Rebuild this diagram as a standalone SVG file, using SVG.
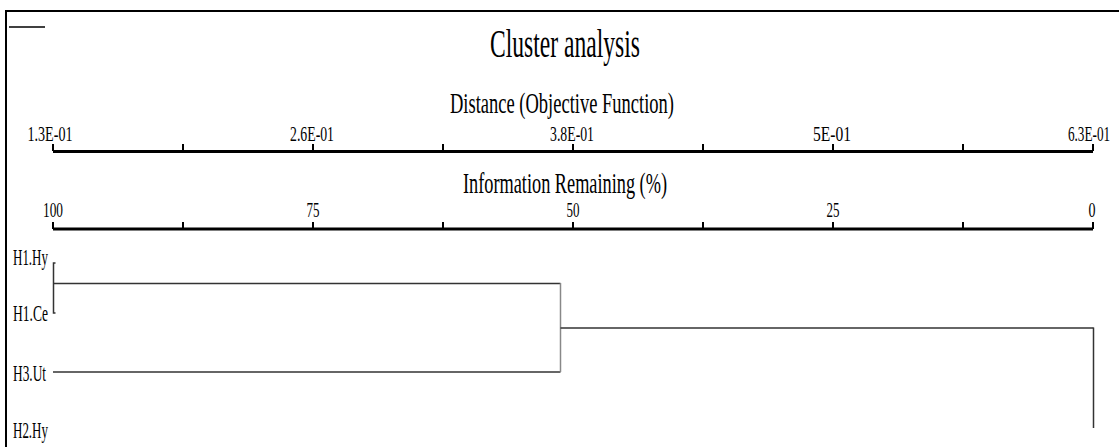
<svg xmlns="http://www.w3.org/2000/svg" width="1119" height="447" viewBox="0 0 1119 447">
  <style>
    text { font-family: "Liberation Serif", "Times New Roman", serif; fill: #000; }
    .title { font-size: 39px; }
    .sub { font-size: 30px; }
    .ax { font-size: 22px; text-anchor: middle; }
    .lab { font-size: 23px; }
    .axis { stroke: #000; stroke-width: 3; fill: none; }
    .tick { stroke: #000; stroke-width: 2; }
    .frame { stroke: #000; stroke-width: 2; fill: none; }
    .dend { stroke: #333; stroke-width: 1.5; fill: none; }
  </style>
  <rect x="0" y="0" width="1119" height="447" fill="#fff"/>
  <g id="frame">
    <path class="frame" d="M6,447 V11 H1119"/>
    <line x1="9" y1="27" x2="45" y2="27" stroke="#000" stroke-width="1.5"/>
  </g>
  <g id="title">
    <text class="title" x="490" y="57" textLength="150" lengthAdjust="spacingAndGlyphs">Cluster analysis</text>
  </g>
  <g id="axis-distance">
    <text class="sub" x="450" y="113" textLength="224" lengthAdjust="spacingAndGlyphs">Distance (Objective Function)</text>
    <line class="axis" x1="53" y1="151.5" x2="1093" y2="151.5"/>
    <g class="tick">
      <line x1="53" y1="144" x2="53" y2="151"/>
      <line x1="183" y1="144" x2="183" y2="151"/>
      <line x1="313" y1="144" x2="313" y2="151"/>
      <line x1="443" y1="144" x2="443" y2="151"/>
      <line x1="573" y1="144" x2="573" y2="151"/>
      <line x1="703" y1="144" x2="703" y2="151"/>
      <line x1="833" y1="144" x2="833" y2="151"/>
      <line x1="963" y1="144" x2="963" y2="151"/>
      <line x1="1093" y1="144" x2="1093" y2="151"/>
    </g>
    <text class="ax" x="50" y="141" textLength="45" lengthAdjust="spacingAndGlyphs">1.3E-01</text>
    <text class="ax" x="312" y="141" textLength="44" lengthAdjust="spacingAndGlyphs">2.6E-01</text>
    <text class="ax" x="572" y="141" textLength="44" lengthAdjust="spacingAndGlyphs">3.8E-01</text>
    <text class="ax" x="832" y="141" textLength="38" lengthAdjust="spacingAndGlyphs">5E-01</text>
    <text class="ax" transform="translate(1089 141) scale(0.6 1)" x="0" y="0">6.3E-01</text>
  </g>
  <g id="axis-info">
    <text class="sub" x="463" y="193" textLength="204" lengthAdjust="spacingAndGlyphs">Information Remaining (%)</text>
    <line class="axis" x1="53" y1="229" x2="1093" y2="229"/>
    <g class="tick">
      <line x1="53" y1="222" x2="53" y2="229"/>
      <line x1="183" y1="222" x2="183" y2="229"/>
      <line x1="313" y1="222" x2="313" y2="229"/>
      <line x1="443" y1="222" x2="443" y2="229"/>
      <line x1="573" y1="222" x2="573" y2="229"/>
      <line x1="703" y1="222" x2="703" y2="229"/>
      <line x1="833" y1="222" x2="833" y2="229"/>
      <line x1="963" y1="222" x2="963" y2="229"/>
      <line x1="1093" y1="222" x2="1093" y2="229"/>
    </g>
    <text class="ax" x="53" y="217" textLength="20" lengthAdjust="spacingAndGlyphs">100</text>
    <text class="ax" x="313" y="217" textLength="13" lengthAdjust="spacingAndGlyphs">75</text>
    <text class="ax" x="573" y="217" textLength="13" lengthAdjust="spacingAndGlyphs">50</text>
    <text class="ax" x="833" y="217" textLength="13" lengthAdjust="spacingAndGlyphs">25</text>
    <text class="ax" x="1092" y="217" textLength="7" lengthAdjust="spacingAndGlyphs">0</text>
  </g>
  <g id="H1.Hy"><text class="lab" x="13" y="265" textLength="35" lengthAdjust="spacingAndGlyphs">H1.Hy</text></g>
  <g id="H1.Ce"><text class="lab" x="13" y="321" textLength="35" lengthAdjust="spacingAndGlyphs">H1.Ce</text></g>
  <g id="H3.Ut"><text class="lab" x="13" y="381" textLength="33" lengthAdjust="spacingAndGlyphs">H3.Ut</text></g>
  <g id="H2.Hy"><text class="lab" x="13" y="438" textLength="35" lengthAdjust="spacingAndGlyphs">H2.Hy</text></g>
  <g id="connectors">
    <path class="dend" d="M55.5,263 H53.5 V313 H55.5" stroke-width="1"/>
    <path class="dend" d="M53.5,283.5 H560.5"/>
    <path class="dend" d="M53,372 H560.5"/>
    <path d="M560.5,283 V372" stroke="#888" stroke-width="1.5" fill="none"/>
    <path class="dend" d="M560.5,328 H1093.5"/>
    <path class="dend" d="M1093.5,327.5 V428"/>
  </g>
</svg>
